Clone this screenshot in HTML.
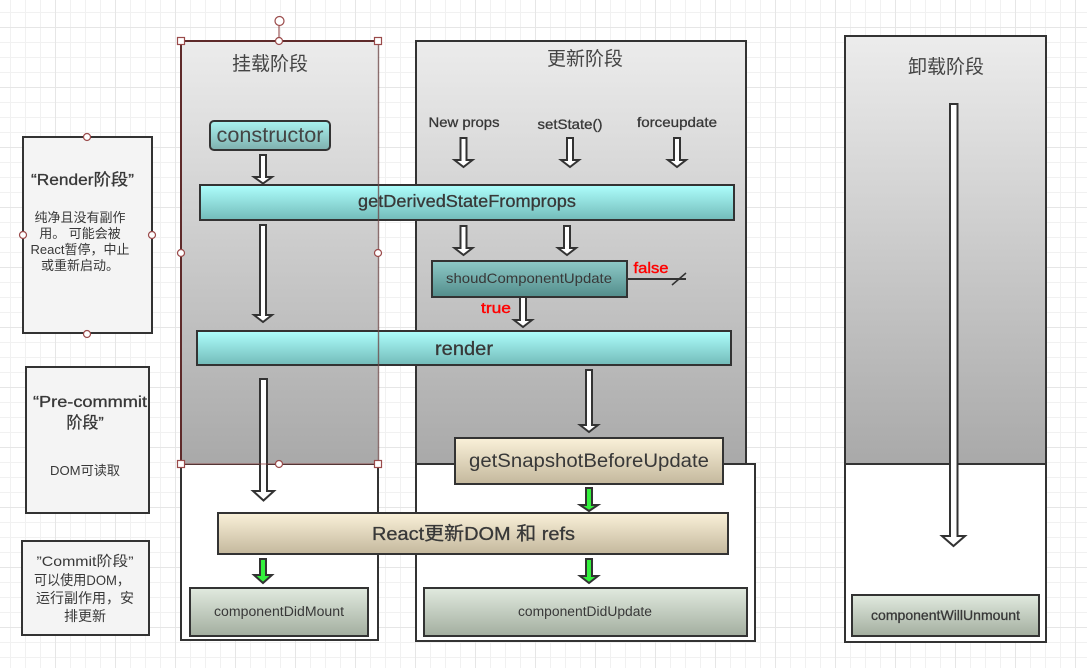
<!DOCTYPE html>
<html><head><meta charset="utf-8"><title>React lifecycle</title>
<style>
html,body{margin:0;padding:0;background:#fff;width:1087px;height:668px;overflow:hidden}
svg{display:block}
text{font-family:"Liberation Sans","Noto Sans CJK SC",sans-serif;fill:#383838;text-anchor:middle}
.s{stroke:#333;stroke-width:2}
.a{fill:#fff;stroke:#333;stroke-width:2;stroke-linejoin:miter}
.g{fill:#33f03c;stroke:#333;stroke-width:2}
.h{fill:#fff;stroke:#9a4a4a;stroke-width:1.2}
.r{fill:#f00}
.m{stroke:#383838;stroke-width:.3}
</style></head><body>
<svg width="1087" height="668" viewBox="0 0 1087 668" xmlns="http://www.w3.org/2000/svg">
<defs>
<linearGradient id="gr" x1="0" y1="0" x2="0" y2="1"><stop offset="0" stop-color="#ececec"/><stop offset="1" stop-color="#a9a9a9"/></linearGradient>
<linearGradient id="cy" x1="0" y1="0" x2="0" y2="1"><stop offset="0" stop-color="#aefffd"/><stop offset="1" stop-color="#73bbb9"/></linearGradient>
<linearGradient id="ct" x1="0" y1="0" x2="0" y2="1"><stop offset="0" stop-color="#a9f3f0"/><stop offset="1" stop-color="#7fb0ae"/></linearGradient>
<linearGradient id="dk" x1="0" y1="0" x2="0" y2="1"><stop offset="0" stop-color="#8ecac8"/><stop offset="1" stop-color="#538d8b"/></linearGradient>
<linearGradient id="ye" x1="0" y1="0" x2="0" y2="1"><stop offset="0" stop-color="#faf1d9"/><stop offset="1" stop-color="#c4b89d"/></linearGradient>
<linearGradient id="gn" x1="0" y1="0" x2="0" y2="1"><stop offset="0" stop-color="#e1eadf"/><stop offset="1" stop-color="#a3ae9f"/></linearGradient>
<pattern id="mn" width="15" height="15" patternUnits="userSpaceOnUse" x="10" y="12"><path d="M.5 0V15M0 .5H15" stroke="#f1f1f1" stroke-width="1" fill="none"/></pattern>
<pattern id="mj" width="60" height="60" patternUnits="userSpaceOnUse" x="55" y="27"><path d="M.5 0V60M0 .5H60" stroke="#e6e6e6" stroke-width="1" fill="none"/></pattern>
</defs>
<rect width="1087" height="668" fill="#fff"/>
<rect width="1087" height="668" fill="url(#mn)"/>
<rect width="1087" height="668" fill="url(#mj)"/>

<!-- Left notes -->
<rect x="23" y="137" width="129" height="196" fill="#f4f4f4" class="s"/>
<text class="m" x="82.5" y="185" font-size="16" textLength="103" lengthAdjust="spacingAndGlyphs" stroke-width=".4">“Render阶段”</text>
<text x="80" y="222" font-size="13">纯净且没有副作</text>
<text x="80" y="238" font-size="13" xml:space="preserve">用。 可能会被</text>
<text x="80" y="254" font-size="13" textLength="99" lengthAdjust="spacingAndGlyphs">React暂停，中止</text>
<text x="80" y="270" font-size="13">或重新启动。</text>

<rect x="26" y="367" width="123" height="146" fill="#f4f4f4" class="s"/>
<text class="m" x="90" y="407" font-size="16" textLength="114" lengthAdjust="spacingAndGlyphs">“Pre-commmit</text>
<text class="m" x="85" y="428" font-size="16">阶段”</text>
<text x="85" y="475" font-size="13" textLength="70" lengthAdjust="spacingAndGlyphs">DOM可读取</text>

<rect x="22" y="541" width="127" height="94" fill="#f4f4f4" class="s"/>
<text x="85" y="566" font-size="14" textLength="97" lengthAdjust="spacingAndGlyphs">”Commit阶段”</text>
<text x="82" y="585" font-size="14" textLength="96" lengthAdjust="spacingAndGlyphs">可以使用DOM，</text>
<text x="85" y="603" font-size="14" textLength="98" lengthAdjust="spacingAndGlyphs">运行副作用，安</text>
<text x="85" y="621" font-size="14">排更新</text>

<!-- Lanes -->
<rect x="181" y="464" width="197" height="176" fill="#fff" class="s"/>
<rect x="181" y="41" width="197" height="423" fill="url(#gr)"/>
<rect x="416" y="464" width="339" height="177" fill="#fff" class="s"/>
<rect x="416" y="41" width="330" height="423" fill="url(#gr)" class="s"/>
<rect x="845" y="464" width="201" height="178" fill="#fff" class="s"/>
<rect x="845" y="36" width="201" height="428" fill="url(#gr)" class="s"/>

<text x="270" y="70" font-size="19" style="fill:#444">挂载阶段</text>
<text x="585" y="65" font-size="19" style="fill:#444">更新阶段</text>
<text x="946" y="73" font-size="19" style="fill:#444">卸载阶段</text>
<text class="m" x="464" y="127" font-size="14" textLength="71" lengthAdjust="spacingAndGlyphs">New props</text>
<text class="m" x="570" y="129" font-size="14" textLength="65" lengthAdjust="spacingAndGlyphs">setState()</text>
<text class="m" x="677" y="127" font-size="14" textLength="80" lengthAdjust="spacingAndGlyphs">forceupdate</text>

<!-- Arrows -->
<polygon class="a" points="260,155 266,155 266,177 272,177 263,183.5 254,177 260,177"/>
<polygon class="a" points="260,225 266,225 266,315 272,315 263,322 254,315 260,315"/>
<polygon class="a" points="260,379 267,379 267,491 274,491 263.5,500.5 253,491 260,491"/>
<polygon class="g" points="260,559 266,559 266,575 272,575 263,583 254,575 260,575"/>
<polygon class="a" points="460.5,138 466.5,138 466.5,160 472.5,160 463.5,167 454.5,160 460.5,160"/>
<polygon class="a" points="567,138 573,138 573,160 579,160 570,167 561,160 567,160"/>
<polygon class="a" points="674,138 680,138 680,160 686,160 677,167 668,160 674,160"/>
<polygon class="a" points="460.5,226 466.5,226 466.5,248 472.5,248 463.5,255 454.5,248 460.5,248"/>
<polygon class="a" points="564,226 570,226 570,248 576,248 567,255 558,248 564,248"/>
<polygon class="a" points="520,296 526,296 526,320 532,320 523,327 514,320 520,320"/>
<polygon class="a" points="586,370 592,370 592,425 598,425 589,432 580,425 586,425"/>
<polygon class="g" points="586,488 592,488 592,505 598,505 589,511 580,505 586,505"/>
<polygon class="g" points="586,559 592,559 592,576 598,576 589,583 580,576 586,576"/>
<polygon class="a" points="950,104 957.5,104 957.5,536 965,536 953.5,546 942,536 950,536"/>

<!-- Blocks -->
<rect x="210" y="121" width="120" height="29" rx="4" fill="url(#ct)" class="s"/>
<text x="270" y="142" font-size="21" textLength="107" lengthAdjust="spacingAndGlyphs" style="fill:#444">constructor</text>
<rect x="200" y="185" width="534" height="35" fill="url(#cy)" class="s"/>
<text class="m" x="467" y="207" font-size="17.5" textLength="218" lengthAdjust="spacingAndGlyphs">getDerivedStateFromprops</text>
<rect x="432" y="261" width="195" height="36" fill="url(#dk)" class="s"/>
<text x="529" y="283" font-size="14" textLength="166" lengthAdjust="spacingAndGlyphs">shoudComponentUpdate</text>
<rect x="197" y="331" width="534" height="34" fill="url(#cy)" class="s"/>
<text class="m" x="464" y="355" font-size="19" textLength="58" lengthAdjust="spacingAndGlyphs">render</text>
<rect x="455" y="438" width="268" height="46" fill="url(#ye)" class="s"/>
<text x="589" y="467" font-size="19" textLength="240" lengthAdjust="spacingAndGlyphs">getSnapshotBeforeUpdate</text>
<rect x="218" y="513" width="510" height="41" fill="url(#ye)" class="s"/>
<text class="m" x="473.5" y="540" font-size="18.5" textLength="203" lengthAdjust="spacingAndGlyphs">React更新DOM 和 refs</text>
<rect x="190" y="588" width="178" height="48" fill="url(#gn)" class="s"/>
<text x="279" y="616" font-size="13.5" textLength="130" lengthAdjust="spacingAndGlyphs">componentDidMount</text>
<rect x="424" y="588" width="323" height="48" fill="url(#gn)" class="s"/>
<text x="585" y="616" font-size="13.5" textLength="134" lengthAdjust="spacingAndGlyphs">componentDidUpdate</text>
<rect x="852" y="595" width="187" height="41" fill="url(#gn)" class="s"/>
<text class="m" x="945.5" y="620" font-size="14" textLength="149" lengthAdjust="spacingAndGlyphs">componentWillUnmount</text>

<!-- false / true -->
<path d="M627 279H686" stroke="#333" stroke-width="2" fill="none"/>
<path d="M672 285L686 273" stroke="#333" stroke-width="1.5" fill="none"/>
<text class="r" x="651" y="273" font-size="15" textLength="35" lengthAdjust="spacingAndGlyphs" style="stroke:#f00;stroke-width:.4">false</text>
<text class="r" x="496" y="313" font-size="15" textLength="30" lengthAdjust="spacingAndGlyphs" style="stroke:#f00;stroke-width:.4">true</text>

<!-- Selection overlay -->
<path d="M181 41V464" stroke="#5e2a2a" stroke-width="2" fill="none"/>
<path d="M181 41H378" stroke="#5e2a2a" stroke-width="2" fill="none"/>
<path d="M378.5 41V464" stroke="#6e4a4a" stroke-opacity=".8" stroke-width="1.4" fill="none"/>
<path d="M181 464H378" stroke="#8b3a3a" stroke-opacity=".75" stroke-width="1" fill="none"/>
<path d="M279 21V41" stroke="#8b3a3a" stroke-width="1" fill="none"/>
<circle class="h" cx="279.5" cy="21" r="4.5"/>
<circle class="h" cx="279" cy="41" r="3.5"/>
<circle class="h" cx="181" cy="253" r="3.5"/>
<circle class="h" cx="378" cy="253" r="3.5"/>
<circle class="h" cx="279" cy="464" r="3.5"/>
<rect class="h" x="177.5" y="37.5" width="7" height="7"/>
<rect class="h" x="374.5" y="37.5" width="7" height="7"/>
<rect class="h" x="177.5" y="460.5" width="7" height="7"/>
<rect class="h" x="374.5" y="460.5" width="7" height="7"/>
<circle class="h" cx="87" cy="137" r="3.5"/>
<circle class="h" cx="23" cy="235" r="3.5"/>
<circle class="h" cx="152" cy="235" r="3.5"/>
<circle class="h" cx="87" cy="334" r="3.5"/>
</svg>
</body></html>
